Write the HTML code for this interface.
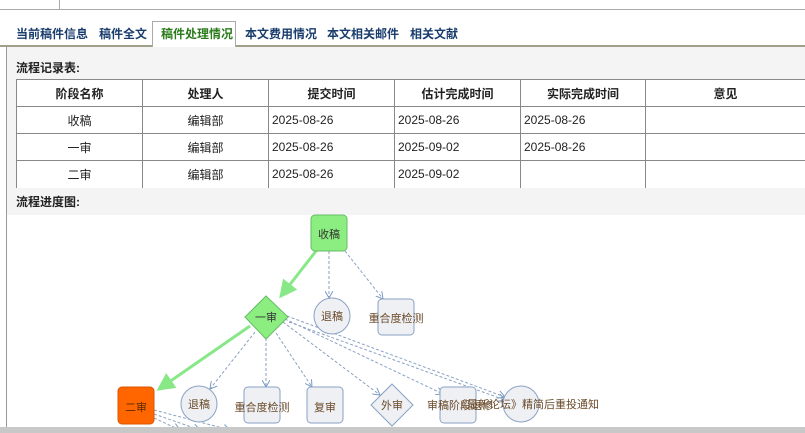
<!DOCTYPE html>
<html><head><meta charset="utf-8"><style>
*{margin:0;padding:0;box-sizing:border-box}
body{width:805px;height:433px;overflow:hidden;background:#fff;font-family:"Liberation Sans","Noto Sans CJK SC",sans-serif;font-size:12px;color:#222;position:relative}
.a{position:absolute}
table{border-collapse:collapse;position:absolute;left:16px;top:79px;width:789px;background:#fff}
td{border:1px solid #888;height:27px;padding:0 3px;font-size:12px}
td.c{text-align:center}
tr:first-child td{font-weight:bold;text-align:center;border-top:1px solid #888}
tr:last-child td{border-bottom:none}
</style></head><body>
<div class="a" style="left:0;top:0;width:805px;height:10px;border-bottom:1px solid #aaa"></div>
<div class="a" style="left:6px;top:0;width:54px;height:10px;border-right:1px solid #aaa"></div>
<div class="a" style="left:0;top:45px;width:805px;height:2px;background:#a0a08a"></div>
<div class="a" style="left:152px;top:21px;width:84px;height:26px;border:1px solid #aaa;border-bottom:none;background:#fff"></div>
<div class="a" style="top:25px;left:16px;font-size:12px;font-weight:bold;color:#1a3d6e;white-space:nowrap">当前稿件信息</div>
<div class="a" style="top:25px;left:99px;font-size:12px;font-weight:bold;color:#1a3d6e">稿件全文</div>
<div class="a" style="top:25px;left:161px;font-size:12px;font-weight:bold;color:#2a7a1a">稿件处理情况</div>
<div class="a" style="top:25px;left:245px;font-size:12px;font-weight:bold;color:#1a3d6e">本文费用情况</div>
<div class="a" style="top:25px;left:327px;font-size:12px;font-weight:bold;color:#1a3d6e">本文相关邮件</div>
<div class="a" style="top:25px;left:410px;font-size:12px;font-weight:bold;color:#1a3d6e">相关文献</div>
<div class="a" style="left:6px;top:47px;width:799px;height:168px;background:#f4f4f4;border-left:1px solid #999"></div>
<div class="a" style="left:6px;top:215px;width:1px;height:212px;background:#999"></div>
<div class="a" style="top:59px;left:16px;font-weight:bold">流程记录表:</div>
<table>
<tr><td style="width:126px">阶段名称</td><td style="width:126px">处理人</td><td style="width:126px">提交时间</td><td style="width:126px">估计完成时间</td><td style="width:125px">实际完成时间</td><td style="border-right:none">意见</td></tr>
<tr><td class="c">收稿</td><td class="c">编辑部</td><td>2025-08-26</td><td>2025-08-26</td><td>2025-08-26</td><td style="border-right:none"></td></tr>
<tr><td class="c">一审</td><td class="c">编辑部</td><td>2025-08-26</td><td>2025-09-02</td><td>2025-08-26</td><td style="border-right:none"></td></tr>
<tr><td class="c">二审</td><td class="c">编辑部</td><td>2025-08-26</td><td>2025-09-02</td><td></td><td style="border-right:none"></td></tr>
</table>
<div class="a" style="top:193px;left:16px;font-weight:bold">流程进度图:</div>
<svg class="a" style="left:0;top:0" width="805" height="433" font-family="Liberation Sans,Noto Sans CJK SC,sans-serif" font-size="11">
<defs>
<marker id="ar" markerWidth="8" markerHeight="8" refX="7" refY="4" orient="auto"><path d="M0,0 L7,4 L0,8" fill="none" stroke="#7a9ac0" stroke-width="1"/></marker>
<marker id="ag" markerWidth="6" markerHeight="6" refX="5" refY="3" orient="auto"><path d="M0,0 L6,3 L0,6z" fill="#88e888"/></marker>
</defs>
<g stroke="#8aa2c4" stroke-width="1" stroke-dasharray="3,2" fill="none" marker-end="url(#ar)">
<line x1="329" y1="251" x2="329" y2="298"/>
<line x1="345" y1="251" x2="383" y2="299"/>
<line x1="255" y1="332" x2="210" y2="389"/>
<line x1="266" y1="338" x2="266" y2="387"/>
<line x1="276" y1="333" x2="312" y2="387"/>
<line x1="283" y1="322" x2="380" y2="395"/>
<line x1="285" y1="319" x2="443" y2="394"/>
<line x1="287" y1="316" x2="505" y2="397"/>
<line x1="289" y1="322" x2="505" y2="400"/>
<line x1="154" y1="410" x2="230" y2="430"/>
<line x1="154" y1="414" x2="200" y2="430"/>
<line x1="154" y1="418" x2="180" y2="430"/>
</g>
<g stroke="#88e888" stroke-width="3" marker-end="url(#ag)">
<line x1="316" y1="251" x2="281" y2="296"/>
<line x1="250" y1="326" x2="159" y2="389"/>
</g>
<rect x="311" y="215" width="36" height="36" rx="4" fill="#8cee80" stroke="#66bb66"/>
<text x="329" y="238" text-anchor="middle" fill="#333">收稿</text>
<polygon points="266,296 288,317 266,339 245,317" fill="#8cee80" stroke="#66bb66"/>
<text x="266" y="321" text-anchor="middle" fill="#333">一审</text>
<circle cx="332" cy="316" r="18" fill="#eef0f4" stroke="#8aa2c4"/>
<text x="332" y="320" text-anchor="middle" fill="#6a4a2a">退稿</text>
<rect x="378" y="299" width="36" height="36" rx="4" fill="#eef0f4" stroke="#8aa2c4"/>
<text x="396" y="322" text-anchor="middle" fill="#6a4a2a">重合度检测</text>
<rect x="118" y="387" width="36" height="37" rx="4" fill="#ff6600" stroke="#dd5500"/>
<text x="136" y="411" text-anchor="middle" fill="#5a2a00">二审</text>
<circle cx="199" cy="404" r="18" fill="#eef0f4" stroke="#8aa2c4"/>
<text x="199" y="408" text-anchor="middle" fill="#6a4a2a">退稿</text>
<rect x="244" y="387" width="36" height="36" rx="4" fill="#eef0f4" stroke="#8aa2c4"/>
<text x="262" y="411" text-anchor="middle" fill="#6a4a2a">重合度检测</text>
<rect x="307" y="387" width="36" height="36" rx="4" fill="#eef0f4" stroke="#8aa2c4"/>
<text x="325" y="411" text-anchor="middle" fill="#6a4a2a">复审</text>
<polygon points="392,384 413,405 392,426 371,405" fill="#eef0f4" stroke="#8aa2c4"/>
<text x="392" y="409" text-anchor="middle" fill="#6a4a2a">外审</text>
<rect x="440" y="387" width="36" height="36" rx="4" fill="#eef0f4" stroke="#8aa2c4"/>
<circle cx="521" cy="404" r="18" fill="#eef0f4" stroke="#8aa2c4"/>
<text x="427" y="409" fill="#6a4a2a">审稿阶段退修</text>
<text x="456" y="408" fill="#6a4a2a">《最新论坛》精简后重投通知</text>
</svg>
<div class="a" style="left:0;top:427px;width:805px;height:6px;background:#c8c8c8"></div>
</body></html>
